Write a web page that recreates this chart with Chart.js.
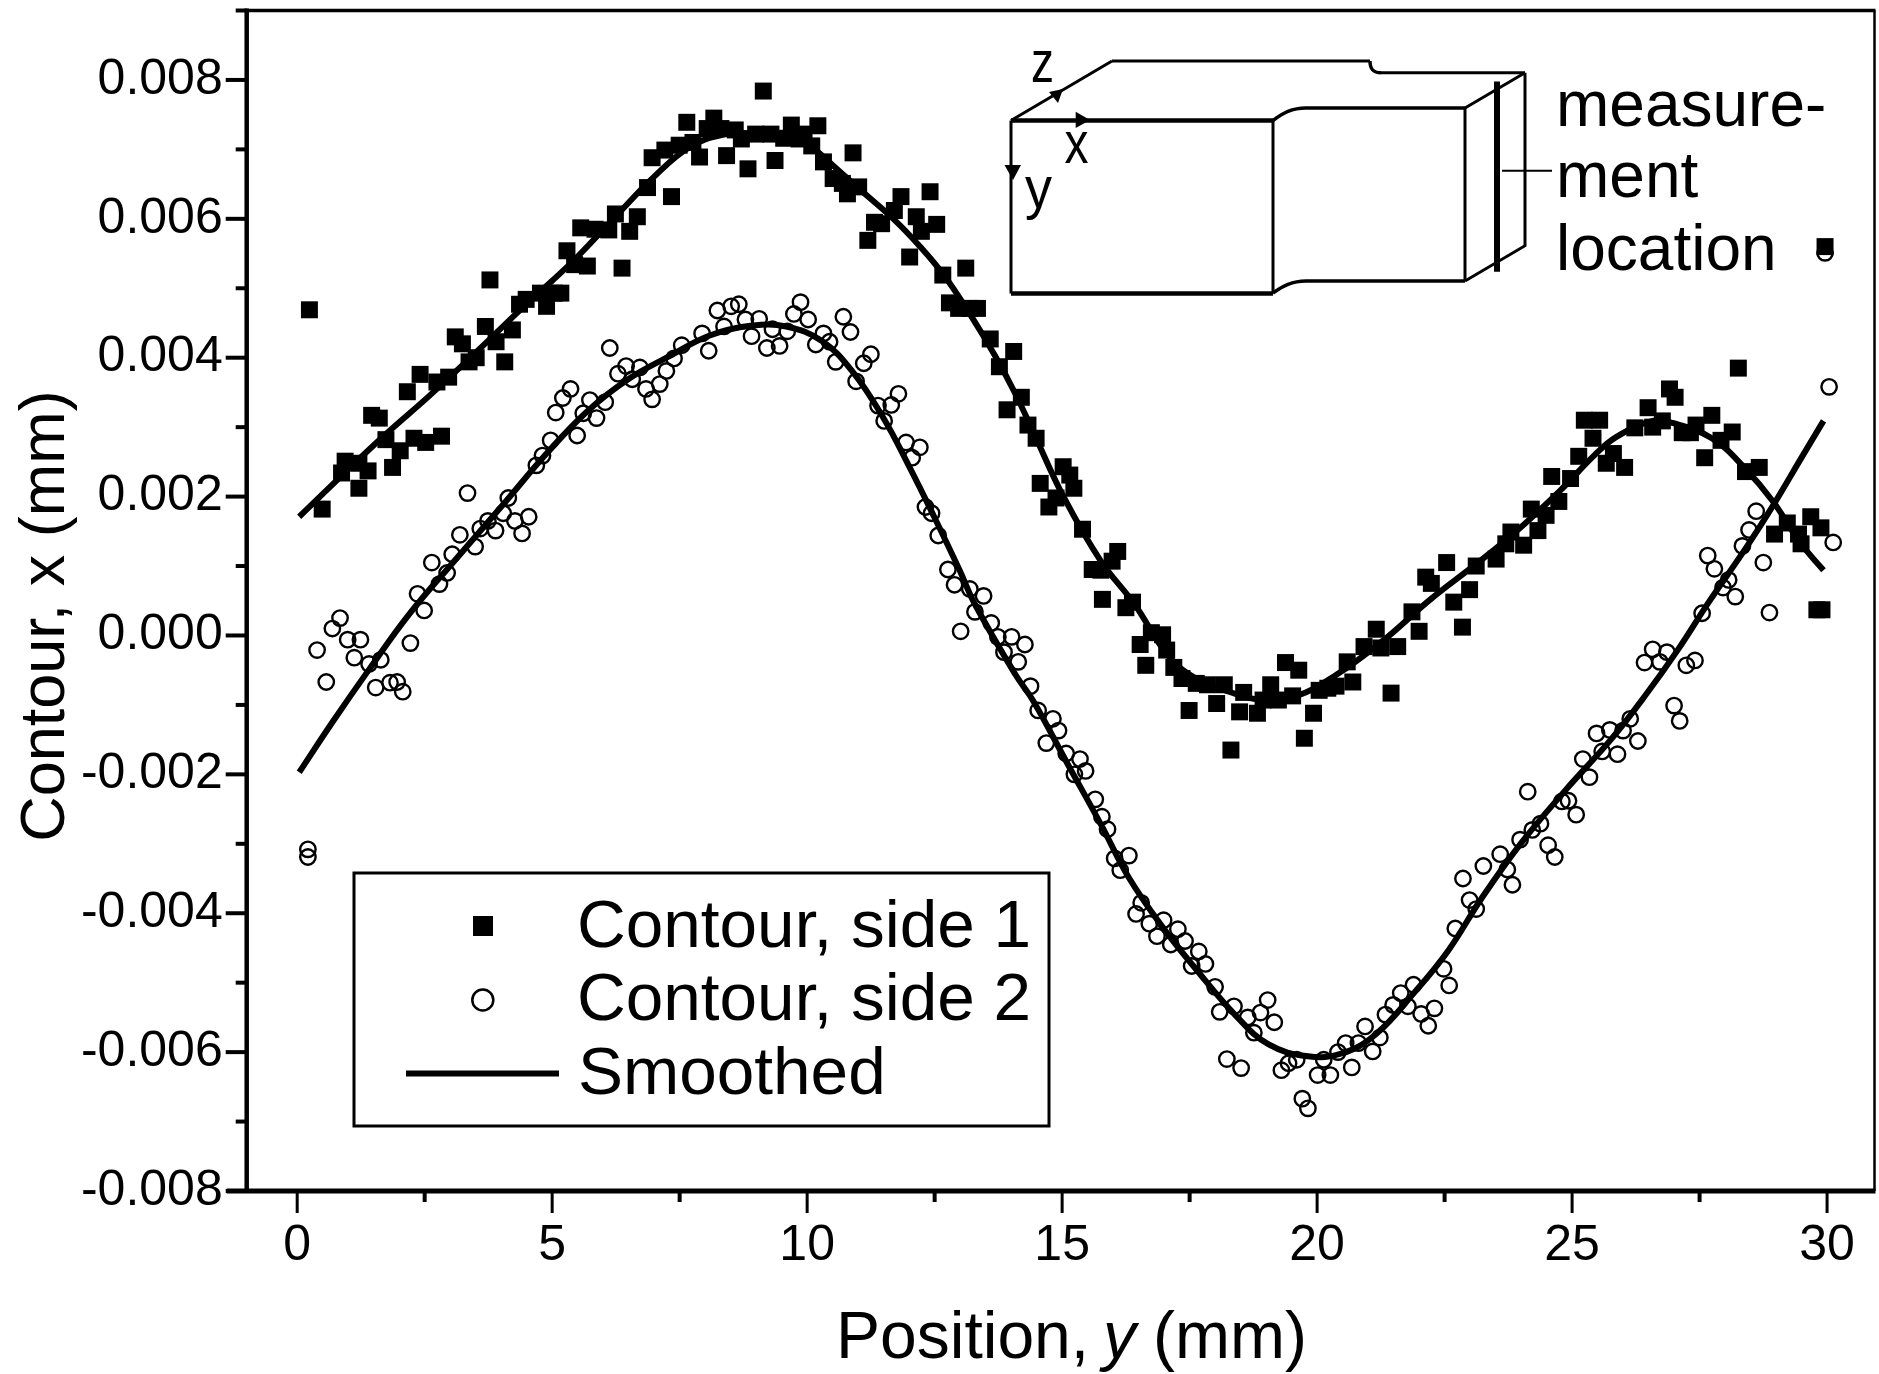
<!DOCTYPE html>
<html>
<head>
<meta charset="utf-8">
<title>Contour</title>
<style>
  html, body { margin: 0; padding: 0; background: #fff; }
  canvas { display: block; }
</style>
<script src="https://cdn.jsdelivr.net/npm/chart.js@4"></script>
</head>
<body>
<canvas id="myChart" width="1879" height="1374"></canvas>
<script>
// Values
const xTicks = [0, 5, 10, 15, 20, 25, 30];
const xMinorTicks = [2.5, 7.5, 12.5, 17.5, 22.5, 27.5];
const yTicks = [-0.008, -0.006, -0.004, -0.002, 0, 0.002, 0.004, 0.006, 0.008];
const yMinorTicks = [-0.007, -0.005, -0.003, -0.001, 0.001, 0.003, 0.005, 0.007, 0.009];

const side1X = [0.24, 0.49, 0.87, 0.94, 1.21, 1.21, 1.39, 1.46, 1.61, 1.74, 1.87, 2.02, 2.16, 2.29, 2.41, 2.52, 2.74, 2.83, 2.97, 3.10,
  3.24, 3.37, 3.51, 3.69, 3.78, 3.90, 4.07, 4.22, 4.36, 4.49, 4.77, 4.89, 5.04, 5.17, 5.29, 5.44, 5.56, 5.69, 5.84, 6.11,
  6.24, 6.37, 6.52, 6.67, 6.87, 6.96, 7.21, 7.34, 7.49, 7.64, 7.76, 7.89, 8.04, 8.17, 8.31, 8.42, 8.59, 8.71, 8.84, 8.99,
  9.14, 9.29, 9.37, 9.54, 9.69, 9.84, 9.94, 10.09, 10.21, 10.32, 10.51, 10.69, 10.79, 10.90, 11.01, 11.19, 11.32, 11.46, 11.71, 11.84,
  12.01, 12.14, 12.24, 12.41, 12.54, 12.66, 12.79, 12.97, 13.11, 13.19, 13.34, 13.59, 13.77, 13.92, 14.05, 14.20, 14.33, 14.49, 14.57, 14.74,
  14.88, 15.02, 15.15, 15.23, 15.40, 15.59, 15.76, 15.79, 15.98, 16.09, 16.25, 16.38, 16.53, 16.64, 16.75, 16.97, 17.05, 17.19, 17.35, 17.49,
  17.63, 17.85, 18.03, 18.18, 18.31, 18.48, 18.56, 18.83, 18.94, 19.09, 19.24, 19.38, 19.52, 19.64, 19.75, 19.93, 20.04, 20.21, 20.37, 20.59,
  20.70, 20.92, 21.16, 21.25, 21.45, 21.58, 21.86, 22.00, 22.13, 22.24, 22.54, 22.68, 22.85, 22.99, 23.12, 23.51, 23.70, 23.80, 24.05, 24.20,
  24.33, 24.49, 24.60, 24.74, 24.97, 25.13, 25.24, 25.41, 25.54, 25.67, 25.81, 26.03, 26.23, 26.49, 26.58, 26.77, 26.91, 27.02, 27.16, 27.32,
  27.43, 27.60, 27.74, 27.92, 28.14, 28.26, 28.40, 28.67, 28.97, 29.22, 29.44, 29.49, 29.68, 29.80, 29.88, 29.90, 29.96];
const side1Y = [0.00469, 0.00182, 0.00234, 0.00251, 0.00248, 0.00212, 0.00237, 0.00317, 0.00313, 0.00282, 0.00242, 0.00266, 0.00351, 0.00284, 0.00376, 0.00278, 0.00365, 0.00287, 0.00372, 0.00430,
  0.00420, 0.00394, 0.00400, 0.00445, 0.00512, 0.00423, 0.00394, 0.00440, 0.00477, 0.00484, 0.00493, 0.00474, 0.00493, 0.00493, 0.00554, 0.00534, 0.00587, 0.00532, 0.00585, 0.00584,
  0.00607, 0.00529, 0.00582, 0.00603, 0.00645, 0.00688, 0.00699, 0.00632, 0.00706, 0.00739, 0.00710, 0.00689, 0.00730, 0.00745, 0.00730, 0.00691, 0.00728, 0.00715, 0.00672, 0.00722,
  0.00784, 0.00722, 0.00684, 0.00716, 0.00735, 0.00715, 0.00722, 0.00705, 0.00734, 0.00682, 0.00658, 0.00651, 0.00636, 0.00695, 0.00646, 0.00569, 0.00595, 0.00593, 0.00612, 0.00632,
  0.00545, 0.00603, 0.00582, 0.00639, 0.00592, 0.00519, 0.00479, 0.00471, 0.00529, 0.00471, 0.00471, 0.00427, 0.00387, 0.00325, 0.00409, 0.00343, 0.00303, 0.00284, 0.00219, 0.00185,
  0.00198, 0.00243, 0.00231, 0.00212, 0.00153, 0.00095, 0.00094, 0.00052, 0.00107, 0.00121, 0.00040, 0.00048, -0.00013, -0.00043, 0.00004, 0.00001, -0.00021, -0.00046, -0.00062, -0.00108,
  -0.00069, -0.00071, -0.00098, -0.00071, -0.00165, -0.00110, -0.00082, -0.00112, -0.00093, -0.00071, -0.00093, -0.00039, -0.00087, -0.00050, -0.00148, -0.00112, -0.00079, -0.00076, -0.00073, -0.00038,
  -0.00067, -0.00016, 0.00009, -0.00018, -0.00083, -0.00016, 0.00034, 0.00006, 0.00084, 0.00075, 0.00105, 0.00048, 0.00012, 0.00066, 0.00100, 0.00110, 0.00132, 0.00149, 0.00130, 0.00182,
  0.00151, 0.00173, 0.00229, 0.00193, 0.00226, 0.00258, 0.00310, 0.00284, 0.00310, 0.00248, 0.00262, 0.00242, 0.00299, 0.00328, 0.00300, 0.00309, 0.00355, 0.00343, 0.00292, 0.00292,
  0.00303, 0.00256, 0.00317, 0.00281, 0.00293, 0.00385, 0.00236, 0.00242, 0.00146, 0.00162, 0.00146, 0.00132, 0.00171, 0.00037, 0.00155, 0.00037, 0.00560];

const side2X = [0.21, 0.21, 0.39, 0.57, 0.69, 0.84, 0.99, 1.12, 1.24, 1.41, 1.54, 1.64, 1.82, 1.96, 2.07, 2.22, 2.36, 2.49, 2.64, 2.79,
  2.94, 3.04, 3.19, 3.34, 3.49, 3.59, 3.74, 3.89, 4.04, 4.14, 4.27, 4.41, 4.54, 4.69, 4.81, 4.97, 5.07, 5.21, 5.36, 5.49,
  5.61, 5.74, 5.87, 6.04, 6.13, 6.29, 6.45, 6.57, 6.72, 6.84, 6.96, 7.11, 7.24, 7.39, 7.54, 7.94, 8.07, 8.24, 8.37, 8.51,
  8.66, 8.79, 8.91, 9.06, 9.21, 9.32, 9.46, 9.61, 9.74, 9.87, 10.02, 10.17, 10.32, 10.44, 10.56, 10.71, 10.85, 10.96, 11.11, 11.25,
  11.39, 11.51, 11.65, 11.79, 11.94, 12.06, 12.21, 12.32, 12.44, 12.57, 12.76, 12.89, 13.01, 13.19, 13.29, 13.46, 13.61, 13.74, 13.86, 14.01,
  14.14, 14.27, 14.38, 14.53, 14.69, 14.82, 14.93, 15.08, 15.24, 15.35, 15.46, 15.65, 15.78, 15.89, 16.03, 16.14, 16.31, 16.45, 16.55, 16.71,
  16.86, 16.99, 17.13, 17.27, 17.41, 17.54, 17.68, 17.81, 18.00, 18.09, 18.23, 18.37, 18.51, 18.64, 18.76, 18.89, 19.03, 19.16, 19.30, 19.44,
  19.60, 19.71, 19.82, 20.01, 20.13, 20.26, 20.41, 20.56, 20.68, 20.81, 20.94, 21.09, 21.23, 21.34, 21.49, 21.64, 21.78, 21.89, 22.04, 22.18,
  22.30, 22.48, 22.59, 22.71, 22.86, 22.99, 23.12, 23.26, 23.59, 23.73, 23.83, 23.98, 24.13, 24.22, 24.38, 24.53, 24.66, 24.80, 24.93, 25.08,
  25.21, 25.34, 25.48, 25.59, 25.74, 25.89, 26.00, 26.14, 26.29, 26.42, 26.58, 26.72, 26.86, 27.00, 27.11, 27.24, 27.41, 27.55, 27.66, 27.79,
  27.96, 28.07, 28.20, 28.34, 28.47, 28.61, 28.75, 28.87, 29.96, 30.04, 30.12];
const side2Y = [-0.00308, -0.00319, -0.00021, -0.00067, 0.00010, 0.00025, -0.00006, -0.00032, -0.00006, -0.00041, -0.00075, -0.00035, -0.00068, -0.00067, -0.00081, -0.00011, 0.00060, 0.00036, 0.00105, 0.00074,
  0.00090, 0.00117, 0.00145, 0.00205, 0.00128, 0.00154, 0.00165, 0.00151, 0.00176, 0.00198, 0.00165, 0.00147, 0.00171, 0.00245, 0.00259, 0.00281, 0.00321, 0.00342, 0.00355, 0.00288,
  0.00320, 0.00339, 0.00313, 0.00336, 0.00414, 0.00377, 0.00388, 0.00369, 0.00386, 0.00355, 0.00340, 0.00362, 0.00381, 0.00399, 0.00418, 0.00435, 0.00410, 0.00468, 0.00445, 0.00474,
  0.00477, 0.00455, 0.00431, 0.00456, 0.00414, 0.00441, 0.00417, 0.00438, 0.00463, 0.00480, 0.00455, 0.00419, 0.00435, 0.00423, 0.00394, 0.00459, 0.00437, 0.00366, 0.00392, 0.00405,
  0.00331, 0.00309, 0.00332, 0.00348, 0.00278, 0.00256, 0.00271, 0.00185, 0.00176, 0.00144, 0.00095, 0.00073, 0.00006, 0.00067, 0.00034, 0.00057, 0.00018, -0.00002, -0.00024, -0.00002,
  -0.00038, -0.00013, -0.00073, -0.00108, -0.00155, -0.00120, -0.00137, -0.00170, -0.00200, -0.00178, -0.00195, -0.00236, -0.00261, -0.00279, -0.00321, -0.00338, -0.00317, -0.00401, -0.00385, -0.00415,
  -0.00433, -0.00410, -0.00445, -0.00423, -0.00440, -0.00476, -0.00455, -0.00473, -0.00506, -0.00542, -0.00610, -0.00534, -0.00623, -0.00550, -0.00572, -0.00543, -0.00525, -0.00557, -0.00626, -0.00616,
  -0.00611, -0.00667, -0.00681, -0.00633, -0.00611, -0.00633, -0.00600, -0.00587, -0.00622, -0.00587, -0.00563, -0.00599, -0.00579, -0.00546, -0.00532, -0.00515, -0.00534, -0.00503, -0.00545, -0.00562,
  -0.00537, -0.00480, -0.00504, -0.00422, -0.00350, -0.00381, -0.00394, -0.00332, -0.00315, -0.00337, -0.00359, -0.00294, -0.00225, -0.00280, -0.00271, -0.00302, -0.00319, -0.00239, -0.00238, -0.00258,
  -0.00178, -0.00204, -0.00141, -0.00167, -0.00136, -0.00171, -0.00137, -0.00120, -0.00152, -0.00039, -0.00020, -0.00038, -0.00024, -0.00101, -0.00123, -0.00043, -0.00036, 0.00032, 0.00115, 0.00096,
  0.00069, 0.00080, 0.00056, 0.00129, 0.00152, 0.00179, 0.00105, 0.00033, 0.00551, 0.00358, 0.00134];

const smooth1X = [0.04, 0.90, 1.74, 2.59, 3.54, 4.39, 4.99, 5.49, 6.24, 6.99, 7.69, 8.34, 8.99, 9.69, 10.09, 10.49, 10.99, 11.69, 12.19, 12.69, 13.19, 13.69, 14.09, 14.44,
  15.04, 15.76, 16.42, 17.08, 17.63, 18.40, 18.94, 19.60, 20.37, 21.25, 22.24, 23.12, 23.89, 24.77, 25.43, 25.87, 26.58, 26.97, 27.74, 28.40, 28.94, 29.49, 29.93];
const smooth1Y = [0.00171, 0.00232, 0.00290, 0.00345, 0.00410, 0.00470, 0.00510, 0.00545, 0.00603, 0.00660, 0.00703, 0.00721, 0.00723, 0.00720, 0.00703, 0.00678, 0.00645, 0.00600, 0.00562, 0.00518, 0.00463, 0.00402, 0.00347, 0.00292,
  0.00198, 0.00107, 0.00045, -0.00029, -0.00062, -0.00084, -0.00093, -0.00087, -0.00057, -0.00010, 0.00053, 0.00103, 0.00149, 0.00209, 0.00259, 0.00286, 0.00309, 0.00306, 0.00284, 0.00240, 0.00193, 0.00132, 0.00094];

const smooth2X = [0.04, 0.69, 1.39, 2.19, 3.09, 4.09, 4.89, 5.69, 6.49, 7.29, 8.09, 8.89, 9.59, 10.29, 10.89, 11.49, 11.99, 12.49, 12.99, 13.29, 14.09, 14.44, 15.10, 15.76,
  16.31, 16.97, 17.63, 18.40, 19.05, 19.82, 20.48, 21.14, 21.91, 22.57, 23.23, 24.00, 24.88, 25.76, 26.42, 27.08, 27.68, 28.40, 28.94, 29.49, 29.93];
const smooth2Y = [-0.00197, -0.00125, -0.00051, 0.00030, 0.00108, 0.00193, 0.00262, 0.00323, 0.00369, 0.00402, 0.00432, 0.00446, 0.00445, 0.00424, 0.00380, 0.00314, 0.00245, 0.00171, 0.00094, 0.00045, -0.00057, -0.00095, -0.00184, -0.00272,
  -0.00349, -0.00420, -0.00481, -0.00547, -0.00589, -0.00606, -0.00602, -0.00575, -0.00514, -0.00454, -0.00378, -0.00299, -0.00222, -0.00150, -0.00088, -0.00020, 0.00048, 0.00125, 0.00187, 0.00255, 0.00309];

const toPoints = (xs, ys) => xs.map((x, i) => ({ x, y: ys[i] }));

const FONT = '"Liberation Sans", Arial, sans-serif';

function line(ctx, pts, width) {
    ctx.lineWidth = width;
    ctx.beginPath();
    pts.forEach((p, i) => i ? ctx.lineTo(p[0], p[1]) : ctx.moveTo(p[0], p[1]));
    ctx.stroke();
}

function triangle(ctx, pts) {
    ctx.beginPath();
    pts.forEach((p, i) => i ? ctx.lineTo(p[0], p[1]) : ctx.moveTo(p[0], p[1]));
    ctx.closePath();
    ctx.fill();
}

// Frame and the two lengths of tick marks
const framePlugin = {
    id: "frame",
    afterDatasetsDraw(chart) {
        const { ctx, chartArea: a, scales } = chart;
        ctx.save();
        ctx.strokeStyle = "#000";
        ctx.lineCap = "butt";
        line(ctx, [[a.left - 2, a.top], [a.right + 1, a.top]], 3.5);
        line(ctx, [[a.right, a.top], [a.right, a.bottom]], 2.5);
        line(ctx, [[a.left, a.top - 2], [a.left, a.bottom]], 4.5);
        line(ctx, [[a.left - 20, a.bottom], [a.right + 1, a.bottom]], 5);
        yTicks.forEach(v => {
            const y = scales.y.getPixelForValue(v);
            line(ctx, [[a.left - 21, y], [a.left, y]], 4);
        });
        yMinorTicks.forEach(v => {
            const y = scales.y.getPixelForValue(v);
            line(ctx, [[a.left - 11, y], [a.left, y]], 4);
        });
        xTicks.forEach(v => {
            const x = scales.x.getPixelForValue(v);
            line(ctx, [[x, a.bottom], [x, a.bottom + 22]], 3);
        });
        xMinorTicks.forEach(v => {
            const x = scales.x.getPixelForValue(v);
            line(ctx, [[x, a.bottom], [x, a.bottom + 11]], 4);
        });
        ctx.restore();
    }
};

// Axis titles, legend box and the specimen sketch
const annotationPlugin = {
    id: "annotations",
    afterDraw(chart) {
        const ctx = chart.ctx;
        ctx.save();
        ctx.fillStyle = "#000";
        ctx.strokeStyle = "#000";
        ctx.textBaseline = "alphabetic";
        ctx.textAlign = "left";

        // x axis title, with the italic y
        ctx.font = `66px ${FONT}`;
        ctx.fillText("Position,", 836, 1358);
        ctx.font = `italic 66px ${FONT}`;
        ctx.fillText("y", 1103, 1358);
        ctx.font = `66px ${FONT}`;
        ctx.fillText("(mm)", 1153, 1358);

        // y axis title
        ctx.save();
        ctx.translate(63.5, 616);
        ctx.rotate(-Math.PI / 2);
        ctx.textAlign = "center";
        ctx.font = `63px ${FONT}`;
        ctx.fillText("Contour, x (mm)", 0, 0);
        ctx.restore();

        // legend
        ctx.fillStyle = "#fff";
        ctx.fillRect(354, 873, 695, 253);
        ctx.fillStyle = "#000";
        ctx.lineWidth = 3;
        ctx.strokeRect(354, 873, 695, 253);
        ctx.fillRect(473, 916, 20, 20);
        ctx.lineWidth = 2.5;
        ctx.beginPath();
        ctx.arc(482.8, 1000, 10.5, 0, Math.PI * 2);
        ctx.stroke();
        line(ctx, [[406, 1073.5], [559, 1073.5]], 6);
        ctx.font = `67.5px ${FONT}`;
        ctx.fillText("Contour, side 1", 577, 946.5);
        ctx.fillText("Contour, side 2", 577, 1020);
        ctx.fillText("Smoothed", 578, 1094);

        // specimen sketch
        line(ctx, [[1011, 120.5], [1273, 120.5]], 4.5);
        line(ctx, [[1011, 293.5], [1273, 293.5]], 4.5);
        line(ctx, [[1011, 120.5], [1011, 293.5]], 3);
        line(ctx, [[1273, 120.5], [1273, 293.5]], 3);
        line(ctx, [[1011, 120.5], [1112, 61]], 3);
        line(ctx, [[1112, 61], [1370, 61]], 3);
        line(ctx, [[1465, 108], [1465, 281]], 3);
        line(ctx, [[1465, 108], [1525, 72.7]], 3);
        line(ctx, [[1525, 72.7], [1525, 245.7], [1465, 281]], 3);
        line(ctx, [[1381, 72.7], [1525, 72.7]], 3);

        ctx.lineWidth = 3.5;
        ctx.beginPath();
        ctx.moveTo(1273, 120.5);
        ctx.bezierCurveTo(1283, 113, 1292, 108, 1306, 108);
        ctx.lineTo(1465, 108);
        ctx.moveTo(1273, 293);
        ctx.bezierCurveTo(1283, 286, 1292, 281, 1306, 281);
        ctx.lineTo(1465, 281);
        ctx.moveTo(1370, 61);
        ctx.bezierCurveTo(1370, 68, 1372, 72.7, 1381, 72.7);
        ctx.stroke();

        line(ctx, [[1497, 81.5], [1497, 271.7]], 6);
        line(ctx, [[1502, 170.7], [1552, 170.7]], 2);

        triangle(ctx, [[1063, 89], [1049, 92], [1058, 103]]);
        triangle(ctx, [[1090, 120], [1075.7, 111.7], [1075.7, 128]]);
        triangle(ctx, [[1013, 180], [1004.5, 165], [1021, 165]]);

        ctx.font = `60px ${FONT}`;
        ctx.fillText("z", 1031, 82, 23);
        ctx.fillText("x", 1064.5, 162.6, 24);
        ctx.fillText("y", 1025, 208, 27);

        ctx.font = `64px ${FONT}`;
        ctx.fillText("measure-", 1556, 125.5);
        ctx.fillText("ment", 1556, 197);
        ctx.fillText("location", 1556, 269.8);
        ctx.restore();
    }
};

const data = {
    datasets: [
        {
            label: "Smoothed",
            data: toPoints(smooth1X, smooth1Y),
            showLine: true,
            tension: 0.4,
            borderColor: "#000",
            borderWidth: 6,
            pointRadius: 0,
            order: 1,
        },
        {
            label: "Smoothed, side 2",
            data: toPoints(smooth2X, smooth2Y),
            showLine: true,
            tension: 0.4,
            borderColor: "#000",
            borderWidth: 6,
            pointRadius: 0,
            order: 1,
        },
        {
            label: "Contour, side 1",
            data: toPoints(side1X, side1Y),
            pointStyle: "rect",
            pointRadius: 12,
            pointBackgroundColor: "#000",
            pointBorderColor: "#000",
            pointBorderWidth: 0,
            order: 3,
        },
        {
            label: "Contour, side 2",
            data: toPoints(side2X, side2Y),
            pointStyle: "circle",
            pointRadius: 7.7,
            pointBackgroundColor: "rgba(0,0,0,0)",
            pointBorderColor: "#000",
            pointBorderWidth: 2.4,
            order: 2,
        },
    ]
};

const config = {
    type: "scatter",
    data: data,
    plugins: [framePlugin, annotationPlugin],
    options: {
        responsive: false,
        animation: false,
        clip: false,
        layout: { autoPadding: false, padding: { top: 10.5, right: 4.5, left: 0, bottom: 0 } },
        plugins: {
            legend: { display: false },
            tooltip: { enabled: false },
        },
        scales: {
            x: {
                type: "linear",
                min: -0.99,
                max: 30.93,
                // transparent native ticks keep the labels away from the axis, the visible ones come from framePlugin
                grid: { display: false, drawTicks: true, tickLength: 25, tickColor: "rgba(0,0,0,0)" },
                border: { display: false },
                afterBuildTicks: scale => { scale.ticks = xTicks.map(value => ({ value })); },
                afterFit: scale => {
                    scale.height = 183;
                    scale.paddingLeft = 0;
                    scale.paddingRight = 0;
                },
                ticks: {
                    autoSkip: false,
                    maxRotation: 0,
                    padding: 0,
                    color: "#000",
                    font: { family: FONT, size: 50 },
                    callback: value => String(value),
                },
            },
            y: {
                type: "linear",
                min: -0.008,
                max: 0.009,
                grid: { display: false, drawTicks: false },
                border: { display: false },
                afterBuildTicks: scale => { scale.ticks = yTicks.map(value => ({ value })); },
                afterFit: scale => {
                    scale.width = 246.7;
                    scale.paddingTop = 0;
                    scale.paddingBottom = 0;
                },
                ticks: {
                    autoSkip: false,
                    padding: 24,
                    color: "#000",
                    font: { family: FONT, size: 50 },
                    callback: value => value.toFixed(3),
                },
            },
        },
    },
};

const myChart = new Chart(document.querySelector("#myChart").getContext("2d"), config);
</script>
</body>
</html>
